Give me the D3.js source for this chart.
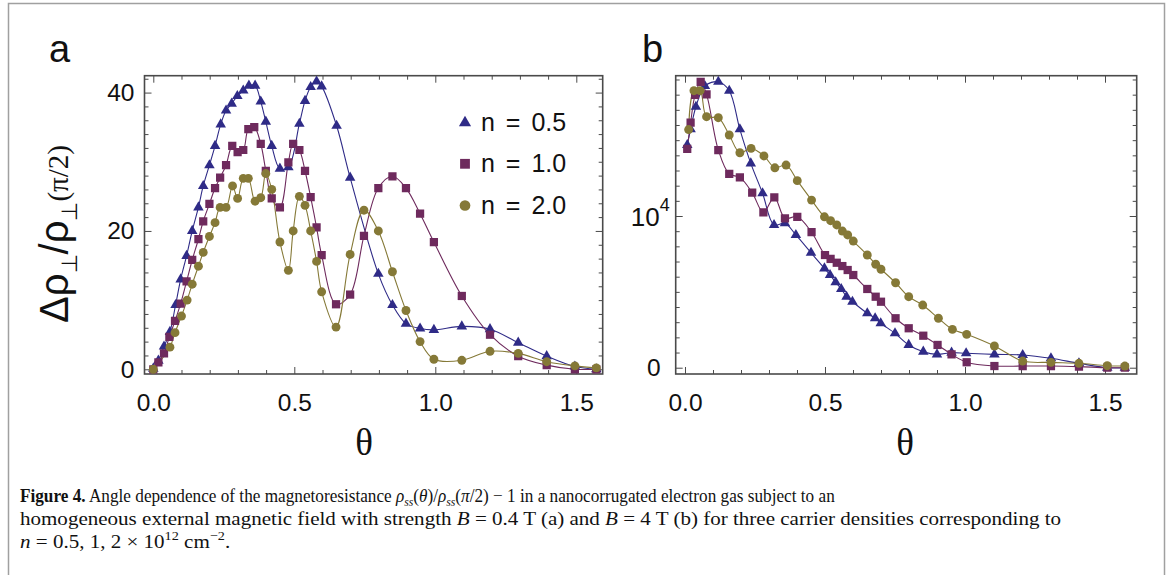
<!DOCTYPE html>
<html>
<head>
<meta charset="utf-8">
<script src="https://cdn.jsdelivr.net/npm/d3@7"></script>
<style>
  body { margin: 0; background: #fff; }
  svg { display: block; }
</style>
</head>
<body>
<svg id="fig" width="1171" height="575"></svg>
<script>
// ---------- Panel a: B = 0.4 T, relative magnetoresistance vs angle ----------
const thetaA_n05 = [0, 0.018, 0.038, 0.059, 0.079, 0.097, 0.118, 0.138, 0.16, 0.177, 0.199, 0.219, 0.239, 0.258, 0.278, 0.298, 0.319, 0.339, 0.361, 0.381, 0.399, 0.42, 0.449, 0.479, 0.518, 0.538, 0.558, 0.579, 0.597, 0.65, 0.698, 0.798, 0.848, 0.896, 0.946, 0.995, 1.094, 1.194, 1.294, 1.395, 1.495, 1.571];
const rhoA_n05   = [0.1, 1.25, 3.3, 5.4, 9.3, 13, 16.4, 20, 23.4, 26.5, 29.5, 32.3, 35.4, 37.4, 38.4, 39.5, 40.3, 41, 41, 38.7, 35.8, 32.3, 29, 29.2, 35.5, 38.8, 40.8, 41.6, 40.9, 35.2, 27.7, 13.8, 9.3, 6.6, 5.9, 5.7, 6.2, 5.8, 3.85, 1.9, 0.4, 0];

const thetaA_n10 = [0, 0.018, 0.038, 0.057, 0.077, 0.097, 0.118, 0.138, 0.16, 0.177, 0.199, 0.219, 0.237, 0.258, 0.28, 0.299, 0.319, 0.337, 0.358, 0.381, 0.399, 0.42, 0.449, 0.479, 0.496, 0.518, 0.538, 0.558, 0.579, 0.597, 0.648, 0.698, 0.747, 0.798, 0.848, 0.896, 0.946, 0.995, 1.094, 1.194, 1.294, 1.395, 1.495, 1.571];
const rhoA_n10   = [0, 1, 2.3, 4.7, 7, 9.5, 12.7, 15.8, 18.8, 21.4, 23.9, 26.2, 27.7, 29.5, 32.3, 31.4, 31.7, 34.7, 35, 32.6, 28.7, 24.7, 23.4, 29.9, 32.6, 31.7, 28.7, 24.9, 20.5, 16.5, 9.4, 10.8, 19.3, 26.2, 27.9, 26.2, 22.5, 18.4, 10.6, 5, 1.9, 0.6, 0, 0];

const thetaA_n20 = [0, 0.059, 0.077, 0.1, 0.12, 0.138, 0.16, 0.177, 0.199, 0.219, 0.237, 0.258, 0.281, 0.299, 0.319, 0.337, 0.361, 0.381, 0.399, 0.42, 0.449, 0.479, 0.496, 0.518, 0.538, 0.558, 0.579, 0.597, 0.648, 0.698, 0.747, 0.798, 0.848, 0.896, 0.946, 0.995, 1.094, 1.194, 1.294, 1.395, 1.495, 1.571];
const rhoA_n20   = [0, 3.2, 5.3, 7.7, 10, 12.3, 14.9, 16.9, 19.2, 21.2, 23.4, 23.4, 26.5, 24.7, 27.6, 27.6, 24.3, 24.8, 28.3, 26, 18.4, 14.3, 20, 25, 23.7, 20, 15.6, 11.2, 6.1, 16.6, 23, 20, 14.1, 8.5, 4, 1.45, 1.3, 2.6, 2.3, 1.1, 0.5, 0.2];

// ---------- Panel b: B = 4 T ----------
const thetaB_n05 = [0.008, 0.02, 0.039, 0.071, 0.119, 0.158, 0.196, 0.235, 0.277, 0.318, 0.357, 0.396, 0.45, 0.498, 0.518, 0.538, 0.558, 0.577, 0.598, 0.651, 0.679, 0.699, 0.75, 0.799, 0.851, 0.9, 0.952, 1.004, 1.105, 1.206, 1.307, 1.407, 1.508, 1.571];
const rhoB_n05   = [14680, 15715, 17205, 18570, 18850, 18260, 15715, 13470, 11500, 9410, 9520, 8750, 7580, 6550, 6110, 5630, 5190, 4680, 4350, 3590, 3260, 2930, 2270, 1500, 1055, 880, 990, 950, 880, 840, 620, 290, 0, 0];

const thetaB_n10 = [0.008, 0.02, 0.036, 0.056, 0.077, 0.119, 0.158, 0.196, 0.24, 0.28, 0.319, 0.357, 0.401, 0.452, 0.5, 0.52, 0.542, 0.562, 0.581, 0.601, 0.651, 0.681, 0.7, 0.752, 0.799, 0.851, 0.902, 0.952, 1.006, 1.105, 1.206, 1.307, 1.407, 1.508, 1.571];
const rhoB_n10   = [14420, 16150, 17980, 18850, 18020, 14350, 12770, 12550, 11540, 10240, 11230, 9850, 9950, 8930, 7430, 7170, 6920, 6700, 6440, 6110, 5190, 4680, 4350, 3260, 2600, 2110, 1500, 880, 360, 110, 110, 110, 70, 0, 0];

const thetaB_n20 = [0.013, 0.032, 0.054, 0.077, 0.119, 0.158, 0.196, 0.236, 0.282, 0.321, 0.361, 0.401, 0.452, 0.498, 0.52, 0.542, 0.562, 0.581, 0.601, 0.651, 0.681, 0.7, 0.752, 0.799, 0.849, 0.905, 0.955, 1.006, 1.105, 1.206, 1.307, 1.407, 1.508, 1.571];
const rhoB_n20   = [15700, 18260, 18260, 16545, 16480, 15340, 14170, 14460, 13960, 13180, 13360, 12330, 11050, 9950, 9690, 9410, 9010, 8750, 8350, 7430, 6820, 6490, 5600, 4680, 4130, 3260, 2530, 2200, 1430, 440, 350, 290, 130, 110];

// ---------- Series / legend ----------
const seriesNames  = ["n = 0.5", "n = 1.0", "n = 2.0"];
const seriesColors = ["#2f2b87", "#6e2a5d", "#857937"];
const seriesShapes = ["triangle", "square", "circle"];

// ---------- Ticks ----------
const xMajorTicks = [0, 0.5, 1.0, 1.5];
const xTickLabels = ["0.0", "0.5", "1.0", "1.5"];
const yMajorTicksA = [0, 20, 40];
const yMajorTicksB = [0, 10000];

const svg = d3.select("#fig");
const FRAME = "#4a4a4a";
const SANS = "'Liberation Sans', Arial, sans-serif";
const SERIF = "'Liberation Serif', 'Times New Roman', serif";
const TICK_FONT = 24.5;

// outer figure border
svg.append("rect")
  .attr("x", 8.5).attr("y", 3.5).attr("width", 1156).attr("height", 620)
  .attr("fill", "none").attr("stroke", "#a0a0a0").attr("stroke-width", 1.5);

const symbolFor = { triangle: d3.symbolTriangle, square: d3.symbolSquare, circle: d3.symbolCircle };
const markerSize = { triangle: 48, square: 68, circle: 62 };

function drawPanel(cfg) {
  const g = svg.append("g");
  const x = d3.scaleLinear().domain(cfg.xDomain).range([cfg.left, cfg.right]);
  const y = d3.scaleLinear().domain(cfg.yDomain).range([cfg.bottom, cfg.top]);

  const xMinor = d3.range(0, 16).map(i => i / 10).filter(v => !xMajorTicks.some(m => Math.abs(m - v) < 1e-9));
  const yMinor = d3.range(0, cfg.yMinorCount + 1).map(i => i * cfg.yMinorStep)
    .filter(v => v <= cfg.yDomain[1] && !cfg.yMajor.some(m => Math.abs(m - v) < 1e-9));

  const styleAxis = sel => {
    sel.select(".domain").remove();
    sel.selectAll(".tick line").attr("stroke", FRAME).attr("stroke-width", 1);
    sel.selectAll("text").attr("fill", "#111").attr("font-family", SANS);
  };

  // bottom
  g.append("g").attr("transform", `translate(0,${cfg.bottom})`)
    .call(d3.axisBottom(x).tickValues(xMinor).tickSize(-4).tickFormat("")).call(styleAxis);
  g.append("g").attr("transform", `translate(0,${cfg.bottom})`)
    .call(d3.axisBottom(x).tickValues(xMajorTicks).tickSize(-7).tickPadding(20)
      .tickFormat((d, i) => xTickLabels[i]))
    .call(styleAxis)
    .selectAll("text").attr("font-size", TICK_FONT);
  // top
  g.append("g").attr("transform", `translate(0,${cfg.top})`)
    .call(d3.axisTop(x).tickValues(xMinor).tickSize(-4).tickFormat("")).call(styleAxis);
  g.append("g").attr("transform", `translate(0,${cfg.top})`)
    .call(d3.axisTop(x).tickValues(xMajorTicks).tickSize(-7).tickFormat("")).call(styleAxis);
  // left
  g.append("g").attr("transform", `translate(${cfg.left},0)`)
    .call(d3.axisLeft(y).tickValues(yMinor).tickSize(-4).tickFormat("")).call(styleAxis);
  const yAxisMajor = g.append("g").attr("transform", `translate(${cfg.left},0)`)
    .call(d3.axisLeft(y).tickValues(cfg.yMajor).tickSize(-7).tickPadding(cfg.yPad).tickFormat(cfg.yFormat))
    .call(styleAxis);
  yAxisMajor.selectAll("text").attr("font-size", TICK_FONT);
  // right
  g.append("g").attr("transform", `translate(${cfg.right},0)`)
    .call(d3.axisRight(y).tickValues(yMinor).tickSize(-4).tickFormat("")).call(styleAxis);
  g.append("g").attr("transform", `translate(${cfg.right},0)`)
    .call(d3.axisRight(y).tickValues(cfg.yMajor).tickSize(-7).tickFormat("")).call(styleAxis);

  if (cfg.afterYAxis) cfg.afterYAxis(yAxisMajor);

  // frame
  g.append("rect")
    .attr("x", cfg.left).attr("y", cfg.top)
    .attr("width", cfg.right - cfg.left).attr("height", cfg.bottom - cfg.top)
    .attr("fill", "none").attr("stroke", FRAME).attr("stroke-width", 1.6);

  // series: smooth curve through the points, then markers
  const line = d3.line().x(d => x(d[0])).y(d => y(d[1])).curve(d3.curveCatmullRom.alpha(0.5));
  const clipId = "clip-" + cfg.id;
  g.append("clipPath").attr("id", clipId).append("rect")
    .attr("x", cfg.left).attr("y", cfg.top)
    .attr("width", cfg.right - cfg.left).attr("height", cfg.bottom - cfg.top);
  const plot = g.append("g").attr("clip-path", `url(#${clipId})`);

  cfg.series.forEach((s, i) => {
    const pts = s.theta.map((t, k) => [t, s.rho[k]]);
    plot.append("path").attr("d", line(pts))
      .attr("fill", "none").attr("stroke", seriesColors[i]).attr("stroke-width", 1.1);
  });
  cfg.series.forEach((s, i) => {
    const pts = s.theta.map((t, k) => [t, s.rho[k]]);
    const sym = d3.symbol(symbolFor[seriesShapes[i]], markerSize[seriesShapes[i]]);
    plot.selectAll(null).data(pts).enter().append("path")
      .attr("d", sym)
      .attr("transform", d => `translate(${x(d[0])},${y(d[1])})`)
      .attr("fill", seriesColors[i]);
  });

  // panel letter
  svg.append("text").attr("x", cfg.letterX).attr("y", 62)
    .attr("font-family", SANS).attr("font-size", 38)
    .attr("fill", "#111").text(cfg.letter);

  // x axis title
  svg.append("text").attr("x", cfg.thetaX).attr("y", 455).attr("text-anchor", "middle")
    .attr("font-family", SERIF).attr("font-size", 37)
    .attr("fill", "#111").text("θ");
  return { x, y };
}

// Panel a
drawPanel({
  id: "a", letter: "a", letterX: 49, thetaX: 364,
  left: 144.5, right: 602.7, top: 75.7, bottom: 374,
  xDomain: [-0.0312, 1.5936], yDomain: [-0.68, 42.44],
  yMajor: yMajorTicksA, yMinorStep: 2, yMinorCount: 21, yPad: 10,
  yFormat: d => String(d),
  series: [
    { theta: thetaA_n05, rho: rhoA_n05 },
    { theta: thetaA_n10, rho: rhoA_n10 },
    { theta: thetaA_n20, rho: rhoA_n20 }
  ]
});

// Panel b
drawPanel({
  id: "b", letter: "b", letterX: 642, thetaX: 905,
  left: 675.7, right: 1136.7, top: 75.7, bottom: 374,
  xDomain: [-0.0332, 1.6132], yDomain: [-415, 19250],
  yMajor: yMajorTicksB, yMinorStep: 1000, yMinorCount: 19, yPad: 15,
  yFormat: d => d === 0 ? "0" : "",
  afterYAxis: axis => {
    // 10^4 label with a raised exponent
    axis.selectAll(".tick").filter(d => d === 10000).select("text")
      .each(function () {
        const t = d3.select(this).attr("dy", null).attr("dx", 9).attr("y", 9);
        t.append("tspan").attr("font-size", 26).text("10");
        t.append("tspan").attr("font-size", 18).attr("dy", -15).text("4");
      });
  },
  series: [
    { theta: thetaB_n05, rho: rhoB_n05 },
    { theta: thetaB_n10, rho: rhoB_n10 },
    { theta: thetaB_n20, rho: rhoB_n20 }
  ]
});

// y-axis title of panel a
const yTitle = svg.append("text")
  .attr("transform", "translate(68,234) rotate(-90)")
  .attr("text-anchor", "middle")
  .attr("fill", "#111")
  .attr("font-family", SANS)
  .attr("font-size", 40);
yTitle.append("tspan").text("Δρ");
yTitle.append("tspan").attr("font-size", 22).attr("dy", 9).text("⊥");
yTitle.append("tspan").attr("dy", -9).text("/ρ");
yTitle.append("tspan").attr("font-size", 22).attr("dy", 9).text("⊥");
yTitle.append("tspan").attr("dy", -9)
  .attr("font-family", SERIF).attr("font-size", 29)
  .text("(π/2)");

// legend
const legend = svg.append("g");
const legendY = [122.7, 163.8, 205.5];
seriesNames.forEach((name, i) => {
  const shape = seriesShapes[i];
  const legSize = { triangle: 64, square: 96, circle: 90 }[shape];
  legend.append("path")
    .attr("d", d3.symbol(symbolFor[shape], legSize))
    .attr("transform", `translate(465,${legendY[i]})`)
    .attr("fill", seriesColors[i]);
  legend.append("text")
    .attr("x", 481).attr("y", legendY[i] + 8.5)
    .attr("font-family", SANS).attr("font-size", 25)
    .attr("word-spacing", 4)
    .attr("fill", "#111").text(name);
});

// caption: laid out naturally, then each line is stretched horizontally to its width
const cap = svg.append("g")
  .attr("font-family", SERIF)
  .attr("font-size", 18.5).attr("fill", "#111");

const l1 = cap.append("text").attr("x", 20).attr("y", 502);
l1.append("tspan").attr("font-weight", "bold").text("Figure 4.");
l1.append("tspan").text(" Angle dependence of the magnetoresistance ");
l1.append("tspan").attr("font-style", "italic").text("ρ");
l1.append("tspan").attr("font-style", "italic").attr("font-size", 12.5).attr("dy", 4).text("ss");
l1.append("tspan").attr("dy", -4).text("(");
l1.append("tspan").attr("font-style", "italic").text("θ");
l1.append("tspan").text(")/");
l1.append("tspan").attr("font-style", "italic").text("ρ");
l1.append("tspan").attr("font-style", "italic").attr("font-size", 12.5).attr("dy", 4).text("ss");
l1.append("tspan").attr("dy", -4).text("(");
l1.append("tspan").attr("font-style", "italic").text("π");
l1.append("tspan").text("/2)  −  1 in a nanocorrugated electron gas subject to an");

const l2 = cap.append("text").attr("x", 20).attr("y", 525);
l2.append("tspan").text("homogeneous external magnetic field with strength ");
l2.append("tspan").attr("font-style", "italic").text("B");
l2.append("tspan").text("  =  0.4 T (a) and ");
l2.append("tspan").attr("font-style", "italic").text("B");
l2.append("tspan").text("  =  4 T (b) for three carrier densities corresponding to");

const l3 = cap.append("text").attr("x", 20).attr("y", 548);
l3.append("tspan").attr("font-style", "italic").text("n");
l3.append("tspan").text("  =  0.5, 1, 2  ×  10");
l3.append("tspan").attr("font-size", 12.5).attr("dy", -8).text("12");
l3.append("tspan").attr("dy", 8).text(" cm");
l3.append("tspan").attr("font-size", 12.5).attr("dy", -8).text("−2");
l3.append("tspan").attr("dy", 8).text(".");

const stretchOf = (t, width) => width / t.node().getComputedTextLength();
const s2 = stretchOf(l2, 1042);
const capStretch = [stretchOf(l1, 815), s2, s2];
[l1, l2, l3].forEach((t, i) =>
  t.attr("transform", `translate(20,0) scale(${capStretch[i]},1) translate(-20,0)`));
</script>
</body>
</html>
